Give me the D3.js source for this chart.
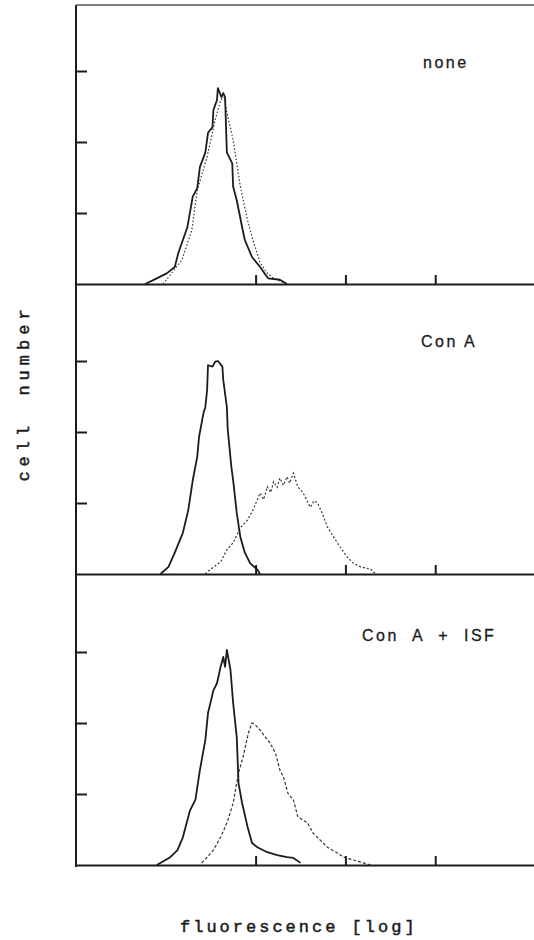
<!DOCTYPE html>
<html>
<head>
<meta charset="utf-8">
<script src="https://cdn.jsdelivr.net/npm/d3@7"></script>
<style>
  body { margin: 0; background: #fff; }
  svg { display: block; }
</style>
</head>
<body>
<div id="wrapper"></div>
<script>
// panel labels
const panelNames = ["none", "Con A", "Con A + ISF"];

// x = log10 fluorescence (decades), y = cell number (in tick units)
const noneSolid = [[0.77,0],[0.90,0.08],[1.01,0.15],[1.10,0.24],[1.14,0.44],[1.24,0.80],[1.30,1.23],[1.35,1.35],[1.38,1.65],[1.44,1.85],[1.47,2.13],[1.52,2.21],[1.53,2.45],[1.57,2.59],[1.58,2.76],[1.62,2.63],[1.64,2.69],[1.66,2.63],[1.68,1.85],[1.74,1.70],[1.75,1.37],[1.79,1.18],[1.85,0.80],[1.88,0.62],[1.96,0.38],[2.05,0.24],[2.11,0.13],[2.14,0.08],[2.27,0.06],[2.35,0]];
const noneDotted = [[0.97,0],[1.18,0.34],[1.29,0.76],[1.35,1.32],[1.46,1.79],[1.55,2.31],[1.61,2.59],[1.65,2.63],[1.68,2.41],[1.75,2.03],[1.83,1.37],[1.91,0.90],[1.97,0.62],[2.05,0.30],[2.13,0.15],[2.20,0.08],[2.35,0]];

const conASolid = [[0.94,0],[1.03,0.10],[1.10,0.30],[1.19,0.58],[1.25,0.90],[1.30,1.32],[1.35,1.65],[1.37,1.93],[1.42,2.27],[1.44,2.35],[1.46,2.59],[1.47,2.94],[1.52,2.92],[1.55,2.99],[1.58,3.00],[1.63,2.92],[1.64,2.73],[1.68,2.35],[1.69,2.03],[1.73,1.51],[1.75,1.32],[1.79,0.86],[1.83,0.52],[1.88,0.30],[1.94,0.15],[2.02,0.06],[2.05,0]];
const conADotted = [[1.44,0],[1.49,0.06],[1.61,0.17],[1.68,0.34],[1.75,0.44],[1.83,0.65],[1.91,0.76],[1.97,0.90],[2.05,1.14],[2.09,1.05],[2.13,1.23],[2.17,1.15],[2.20,1.30],[2.24,1.22],[2.27,1.35],[2.31,1.25],[2.35,1.37],[2.38,1.28],[2.42,1.42],[2.47,1.23],[2.53,1.14],[2.61,0.94],[2.65,1.03],[2.69,1.00],[2.74,0.86],[2.80,0.66],[2.87,0.52],[2.94,0.38],[3.02,0.24],[3.09,0.15],[3.17,0.10],[3.28,0.07],[3.33,0.01]];

const isfSolid = [[0.90,0],[1.05,0.11],[1.13,0.21],[1.19,0.39],[1.27,0.77],[1.33,0.92],[1.38,1.34],[1.44,1.76],[1.47,2.14],[1.53,2.46],[1.57,2.56],[1.61,2.79],[1.64,2.93],[1.66,2.79],[1.68,3.03],[1.72,2.75],[1.75,2.28],[1.79,1.80],[1.81,1.15],[1.85,0.87],[1.91,0.54],[1.96,0.31],[2.02,0.25],[2.13,0.18],[2.24,0.14],[2.35,0.11],[2.42,0.10],[2.50,0.03]];
const isfDashed = [[1.40,0.03],[1.46,0.11],[1.53,0.21],[1.61,0.39],[1.68,0.59],[1.75,0.87],[1.81,1.30],[1.86,1.52],[1.92,1.86],[1.96,2.00],[2.00,1.97],[2.05,1.90],[2.11,1.80],[2.16,1.72],[2.22,1.58],[2.27,1.34],[2.31,1.24],[2.36,1.01],[2.42,0.92],[2.47,0.68],[2.58,0.59],[2.64,0.45],[2.72,0.35],[2.80,0.25],[2.91,0.17],[2.98,0.11],[3.09,0.07],[3.20,0.03],[3.28,0]];

const xTicks = [2, 3, 4];
const yTicks = [1, 2, 3];

const panels = [
    {name: panelNames[0], solid: noneSolid, other: noneDotted, dash: "1.5,2", base: 284, labelX: 423, labelY: 68, ls: 2.5, ws: 0},
    {name: panelNames[1], solid: conASolid, other: conADotted, dash: "2,2", base: 574, labelX: 421, labelY: 347, ls: 2.5, ws: 0},
    {name: panelNames[2], solid: isfSolid, other: isfDashed, dash: "3,2", base: 865, labelX: 362, labelY: 641, ls: 2.5, ws: 7}
];

const dimension = {width: 534, height: 940, left: 76, right: 534};

const svg = d3.select("#wrapper").append("svg")
    .attr("width", dimension.width)
    .attr("height", dimension.height);

const xScaler = d3.scaleLinear()
    .domain([0, 5.1])
    .range([dimension.left, dimension.right]);

const ink = "#1c1c1c";

// left spine + top border
svg.append("line")
    .attr("x1", dimension.left).attr("x2", dimension.left)
    .attr("y1", 5).attr("y2", 867)
    .attr("stroke", ink).attr("stroke-width", 2);
svg.append("line")
    .attr("x1", dimension.left).attr("x2", dimension.right)
    .attr("y1", 5).attr("y2", 5)
    .attr("stroke", "#555").attr("stroke-width", 1.5);

panels.forEach(p => {
    const yScaler = d3.scaleLinear()
        .domain([0, 4])
        .range([p.base, p.base - 284]);

    const g = svg.append("g");

    // baseline with upward ticks
    const xAxis = d3.axisTop(xScaler).tickValues(xTicks).tickSize(9).tickSizeOuter(0).tickFormat("");
    g.append("g")
        .attr("transform", `translate(0,${p.base})`)
        .call(xAxis)
        .call(a => a.select(".domain").attr("stroke", ink).attr("stroke-width", 2))
        .call(a => a.selectAll(".tick line").attr("stroke", ink).attr("stroke-width", 2));

    // inward y ticks
    const yAxis = d3.axisRight(yScaler).tickValues(yTicks).tickSize(11).tickFormat("");
    g.append("g")
        .attr("transform", `translate(${dimension.left},0)`)
        .call(yAxis)
        .call(a => a.select(".domain").remove())
        .call(a => a.selectAll(".tick line").attr("stroke", ink).attr("stroke-width", 2));

    const line = d3.line()
        .x(d => xScaler(d[0]))
        .y(d => yScaler(d[1]));

    g.append("path")
        .attr("d", line(p.other))
        .attr("fill", "none")
        .attr("stroke", "#333")
        .attr("stroke-width", 1.2)
        .attr("stroke-dasharray", p.dash);

    g.append("path")
        .attr("d", line(p.solid))
        .attr("fill", "none")
        .attr("stroke", ink)
        .attr("stroke-width", 1.8)
        .attr("stroke-linejoin", "round");

    g.append("text")
        .attr("x", p.labelX)
        .attr("y", p.labelY)
        .attr("font-family", "'Liberation Sans', Arial, sans-serif")
        .attr("font-size", 16)
        .attr("letter-spacing", p.ls)
        .attr("word-spacing", p.ws)
        .attr("fill", ink)
        .attr("stroke", ink)
        .attr("stroke-width", 0.3)
        .text(p.name);
});

svg.append("text")
    .attr("x", 180)
    .attr("y", 932)
    .attr("font-family", "'Liberation Mono', 'DejaVu Sans Mono', monospace")
    .attr("font-size", 17)
    .attr("letter-spacing", 3)
    .attr("fill", ink)
    .attr("stroke", ink)
    .attr("stroke-width", 0.5)
    .text("fluorescence [log]");

svg.append("text")
    .attr("transform", "translate(29,393) rotate(-90)")
    .attr("text-anchor", "middle")
    .attr("font-family", "'Liberation Mono', 'DejaVu Sans Mono', monospace")
    .attr("font-size", 17)
    .attr("letter-spacing", 5)
    .attr("word-spacing", 10)
    .attr("fill", ink)
    .attr("stroke", ink)
    .attr("stroke-width", 0.5)
    .text("cell number");
</script>
</body>
</html>
